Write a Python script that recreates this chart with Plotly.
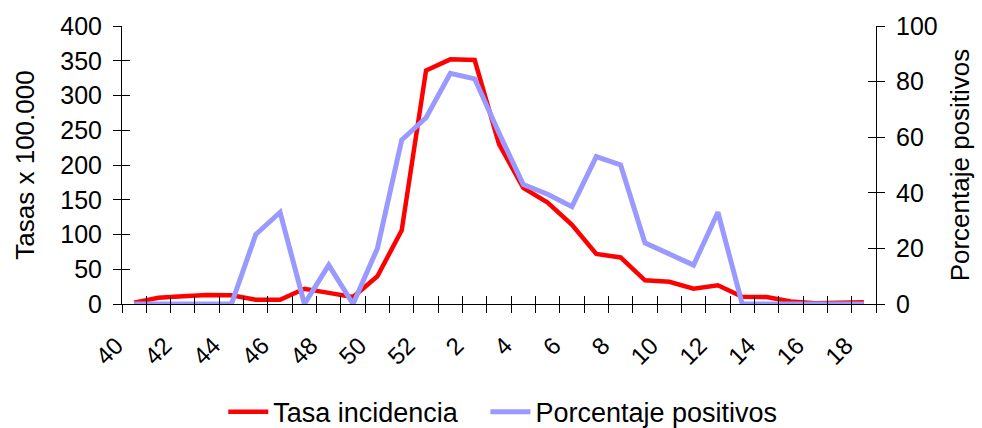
import plotly.graph_objects as go

# Epidemiological weeks 40-52 of one season and 1-18 of the next
weeks = [40, 41, 42, 43, 44, 45, 46, 47, 48, 49, 50, 51, 52,
         1, 2, 3, 4, 5, 6, 7, 8, 9, 10, 11, 12, 13, 14, 15, 16, 17, 18]

# Incidence rate per 100,000 inhabitants
tasa_incidencia = [2, 9, 11, 13, 12.5, 6, 6, 22, 16, 10, 40, 106, 336,
                   352, 351, 230, 167, 146, 114, 72, 67, 34, 32, 22, 27,
                   10.5, 10, 3.5, 1, 2, 2.5]

# Percentage of positive samples
porcentaje_positivos = [0, 0, 0, 0, 0, 25, 33, 0, 14, 0, 20, 59, 67,
                        83, 81, 61.5, 43, 39.5, 35, 53, 50, 22, 18, 14, 33,
                        0, 0, 0, 0, 0, 0]

left_ticks = [0, 50, 100, 150, 200, 250, 300, 350, 400]
right_ticks = [0, 20, 40, 60, 80, 100]

FONT = "Liberation Sans, Arial, sans-serif"
NBSP = "\u00a0"
idx = list(range(len(weeks)))
label_idx = idx[::2]
label_text = [str(weeks[i]) for i in label_idx]
boundaries = [i - 0.5 for i in range(len(weeks) + 1)]
xrange_ = [-0.5, len(weeks) - 0.5]

fig = go.Figure()
fig.add_trace(go.Scatter(
    x=idx, y=tasa_incidencia, mode="lines",
    name="Tasa incidencia" + NBSP * 3,
    line=dict(color="#FF0000", width=4.5), xaxis="x", yaxis="y"))
fig.add_trace(go.Scatter(
    x=idx, y=porcentaje_positivos, mode="lines", name="Porcentaje positivos",
    line=dict(color="#9999FF", width=5), xaxis="x", yaxis="y2"))

# empty traces so the overlay axes used for crossing tick marks get drawn
for xa, ya in [("x2", "y"), ("x3", "y"), ("x", "y3"), ("x", "y4")]:
    fig.add_trace(go.Scatter(x=[], y=[], xaxis=xa, yaxis=ya,
                             showlegend=False, hoverinfo="skip"))

common = dict(showgrid=False, zeroline=False, tickcolor="black",
              tickwidth=1, linecolor="black", linewidth=1, automargin=False)

fig.update_layout(
    width=982, height=428,
    margin=dict(l=122, r=106, t=26, b=124, autoexpand=False),
    paper_bgcolor="white", plot_bgcolor="white",
    font=dict(family=FONT, size=25, color="black"),
    showlegend=True,
    legend=dict(orientation="h", x=0.505, xanchor="center",
                y=-0.389, yanchor="middle", font=dict(size=27),
                itemwidth=40, tracegroupgap=0),
    xaxis=dict(range=xrange_, tickmode="array", tickvals=label_idx,
               ticktext=label_text, tickangle=-45, ticks="",
               tickfont=dict(size=24),
               showline=True, anchor="y", ticklabelstandoff=17,
               ticklabelshift=-18, **common),
    xaxis2=dict(range=xrange_, overlaying="x", anchor="y", tickmode="array",
                tickvals=boundaries, ticks="outside", ticklen=8,
                showticklabels=False, showline=False, **common),
    xaxis3=dict(range=xrange_, overlaying="x", anchor="y", tickmode="array",
                tickvals=boundaries, ticks="inside", ticklen=8,
                showticklabels=False, showline=False, **common),
    yaxis=dict(range=[0, 400], tickmode="array", tickvals=left_ticks,
               ticks="outside", ticklen=8, showline=True, anchor="x",
               title=dict(text="Tasas x 100.000", standoff=18,
                          font=dict(size=26)),
               ticklabelstandoff=6, **common),
    yaxis2=dict(range=[0, 100], tickmode="array", tickvals=right_ticks,
                side="right", overlaying="y", anchor="x",
                ticks="outside", ticklen=8, showline=True,
                title=dict(text="Porcentaje positivos", standoff=14,
                           font=dict(size=26)),
                ticklabelstandoff=6, **common),
    yaxis3=dict(range=[0, 400], overlaying="y", anchor="x", side="left",
                tickmode="array", tickvals=left_ticks, ticks="inside",
                ticklen=8, showticklabels=False, showline=False, **common),
    yaxis4=dict(range=[0, 100], overlaying="y", anchor="x", side="right",
                tickmode="array", tickvals=right_ticks, ticks="inside",
                ticklen=8, showticklabels=False, showline=False, **common),
)

fig.write_html("out.html")
